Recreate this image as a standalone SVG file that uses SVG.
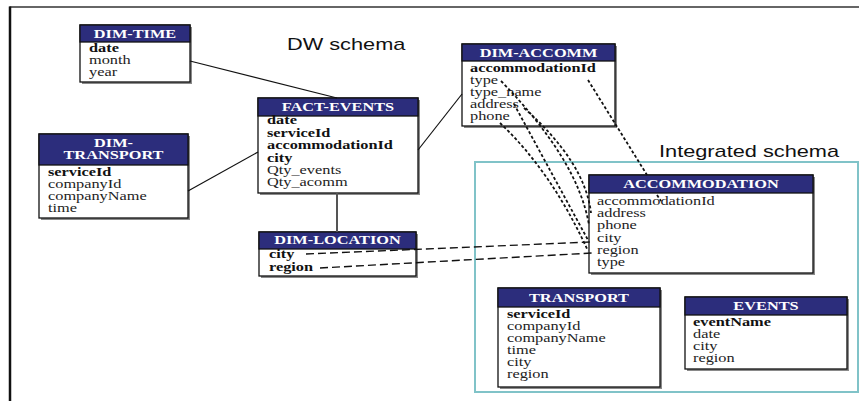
<svg xmlns="http://www.w3.org/2000/svg" width="859" height="401" viewBox="0 0 859 401">
<style>
  .box{fill:#fff;stroke:#111;stroke-width:1.3}
  .shadow{fill:#8a8a8a}
  .hdr{fill:#2c2d7c;stroke:#111;stroke-width:1.3}
  .ht{font-family:"Liberation Serif",serif;font-size:12px;font-weight:bold;fill:#fff;text-anchor:middle}
  .r{font-family:"Liberation Serif",serif;font-size:12px;fill:#222}
  .b{font-family:"Liberation Serif",serif;font-size:12px;font-weight:bold;fill:#111}
  .lbl{font-family:"Liberation Sans",Arial,sans-serif;font-size:16px;fill:#111}
  .solid{fill:none;stroke:#111;stroke-width:1.2}
  .dot{fill:none;stroke:#111;stroke-width:1.8;stroke-dasharray:3 2.2}
  .dash{fill:none;stroke:#111;stroke-width:1.4;stroke-dasharray:8 4}
</style>
<rect width="859" height="401" fill="#fff"/>
<g id="frame">
  <line x1="9.5" y1="7" x2="859" y2="7" stroke="#333" stroke-width="1.5"/>
  <line x1="10" y1="6.5" x2="10" y2="401" stroke="#111" stroke-width="2.5"/>
  <rect x="475" y="162" width="383" height="230" fill="none" stroke="#80c3c8" stroke-width="2"/>
</g>
<g id="labels">
  <text class="lbl" transform="translate(287,50) scale(1.36,1)">DW schema</text>
  <text class="lbl" transform="translate(659,157) scale(1.36,1)">Integrated schema</text>
</g>

<g id="dim-time">
  <rect class="shadow" x="82" y="27" width="110" height="57"/>
  <rect class="box" x="80" y="25" width="110" height="57"/>
  <rect class="hdr" x="80" y="25" width="110" height="17"/>
  <text class="ht" transform="translate(135,38) scale(1.36,1)">DIM-TIME</text>
  <g transform="translate(89,0) scale(1.36,1)">
    <text class="b" y="52">date</text>
    <text class="r" y="64">month</text>
    <text class="r" y="76">year</text>
  </g>
</g>

<g id="dim-transport">
  <rect class="shadow" x="41" y="136" width="149" height="84"/>
  <rect class="box" x="39" y="134" width="149" height="84"/>
  <rect class="hdr" x="39" y="134" width="149" height="31"/>
  <text class="ht" transform="translate(113.5,147) scale(1.36,1)">DIM-</text>
  <text class="ht" transform="translate(113.5,159) scale(1.36,1)">TRANSPORT</text>
  <g transform="translate(48,0) scale(1.36,1)">
    <text class="b" y="176">serviceId</text>
    <text class="r" y="188">companyId</text>
    <text class="r" y="200">companyName</text>
    <text class="r" y="212">time</text>
  </g>
</g>

<g id="fact-events">
  <rect class="shadow" x="260" y="100" width="160" height="95"/>
  <rect class="box" x="258" y="98" width="160" height="95"/>
  <rect class="hdr" x="258" y="98" width="160" height="18"/>
  <text class="ht" transform="translate(338,111) scale(1.36,1)">FACT-EVENTS</text>
  <g transform="translate(267,0) scale(1.36,1)">
    <text class="b" y="124">date</text>
    <text class="b" y="137">serviceId</text>
    <text class="b" y="149">accommodationId</text>
    <text class="b" y="162">city</text>
    <text class="r" y="174">Qty_events</text>
    <text class="r" y="186">Qty_acomm</text>
  </g>
</g>

<g id="dim-location">
  <rect class="shadow" x="261" y="234" width="157" height="44"/>
  <rect class="box" x="259" y="232" width="157" height="44"/>
  <rect class="hdr" x="259" y="232" width="157" height="17"/>
  <text class="ht" transform="translate(337.5,244) scale(1.36,1)">DIM-LOCATION</text>
  <g transform="translate(269,0) scale(1.36,1)">
    <text class="b" y="258">city</text>
    <text class="b" y="271">region</text>
  </g>
</g>

<g id="dim-accomm">
  <rect class="shadow" x="464" y="46" width="153" height="82"/>
  <rect class="box" x="462" y="44" width="153" height="82"/>
  <rect class="hdr" x="462" y="44" width="153" height="17"/>
  <text class="ht" transform="translate(538.5,57) scale(1.36,1)">DIM-ACCOMM</text>
  <g transform="translate(470,0) scale(1.36,1)">
    <text class="b" y="72">accommodationId</text>
    <text class="r" y="84">type</text>
    <text class="r" y="96">type_name</text>
    <text class="r" y="108">address</text>
    <text class="r" y="120">phone</text>
  </g>
</g>

<g id="accommodation">
  <rect class="shadow" x="591" y="177" width="224" height="98"/>
  <rect class="box" x="589" y="175" width="224" height="98"/>
  <rect class="hdr" x="589" y="175" width="224" height="18"/>
  <text class="ht" transform="translate(701,188) scale(1.36,1)">ACCOMMODATION</text>
  <g transform="translate(597,0) scale(1.36,1)">
    <text class="r" y="205">accommodationId</text>
    <text class="r" y="217">address</text>
    <text class="r" y="229">phone</text>
    <text class="r" y="242">city</text>
    <text class="r" y="254">region</text>
    <text class="r" y="266">type</text>
  </g>
</g>

<g id="transport">
  <rect class="shadow" x="500" y="290" width="162" height="99"/>
  <rect class="box" x="498" y="288" width="162" height="99"/>
  <rect class="hdr" x="498" y="288" width="162" height="19"/>
  <text class="ht" transform="translate(579,302) scale(1.36,1)">TRANSPORT</text>
  <g transform="translate(507,0) scale(1.36,1)">
    <text class="b" y="318">serviceId</text>
    <text class="r" y="330">companyId</text>
    <text class="r" y="342">companyName</text>
    <text class="r" y="354">time</text>
    <text class="r" y="366">city</text>
    <text class="r" y="378">region</text>
  </g>
</g>

<g id="events">
  <rect class="shadow" x="687" y="299" width="162" height="72"/>
  <rect class="box" x="685" y="297" width="162" height="72"/>
  <rect class="hdr" x="685" y="297" width="162" height="18"/>
  <text class="ht" transform="translate(766,310) scale(1.36,1)">EVENTS</text>
  <g transform="translate(693,0) scale(1.36,1)">
    <text class="b" y="326">eventName</text>
    <text class="r" y="338">date</text>
    <text class="r" y="350">city</text>
    <text class="r" y="362">region</text>
  </g>
</g>

<g id="connectors">
  <line class="solid" x1="190" y1="61" x2="337" y2="98"/>
  <line class="solid" x1="188" y1="191" x2="258" y2="152"/>
  <line class="solid" x1="418" y1="150" x2="462" y2="94"/>
  <line x1="337" y1="193" x2="337" y2="232" stroke="#555" stroke-width="2"/>
  <path class="dot" d="M588,80 L647,175"/>
  <path class="dot" d="M657,195 L661,201"/>
  <path class="dot" d="M501,81 Q578,160 589,225"/>
  <path class="dot" d="M524,108 Q585,162 591,213"/>
  <path class="dot" d="M514,104 L588,240"/>
  <path class="dot" d="M500,123 Q552,172 588,251"/>
  <path class="dash" d="M306,254 L591,242"/>
  <path class="dash" d="M320,268 L592,253"/>
</g>
</svg>
